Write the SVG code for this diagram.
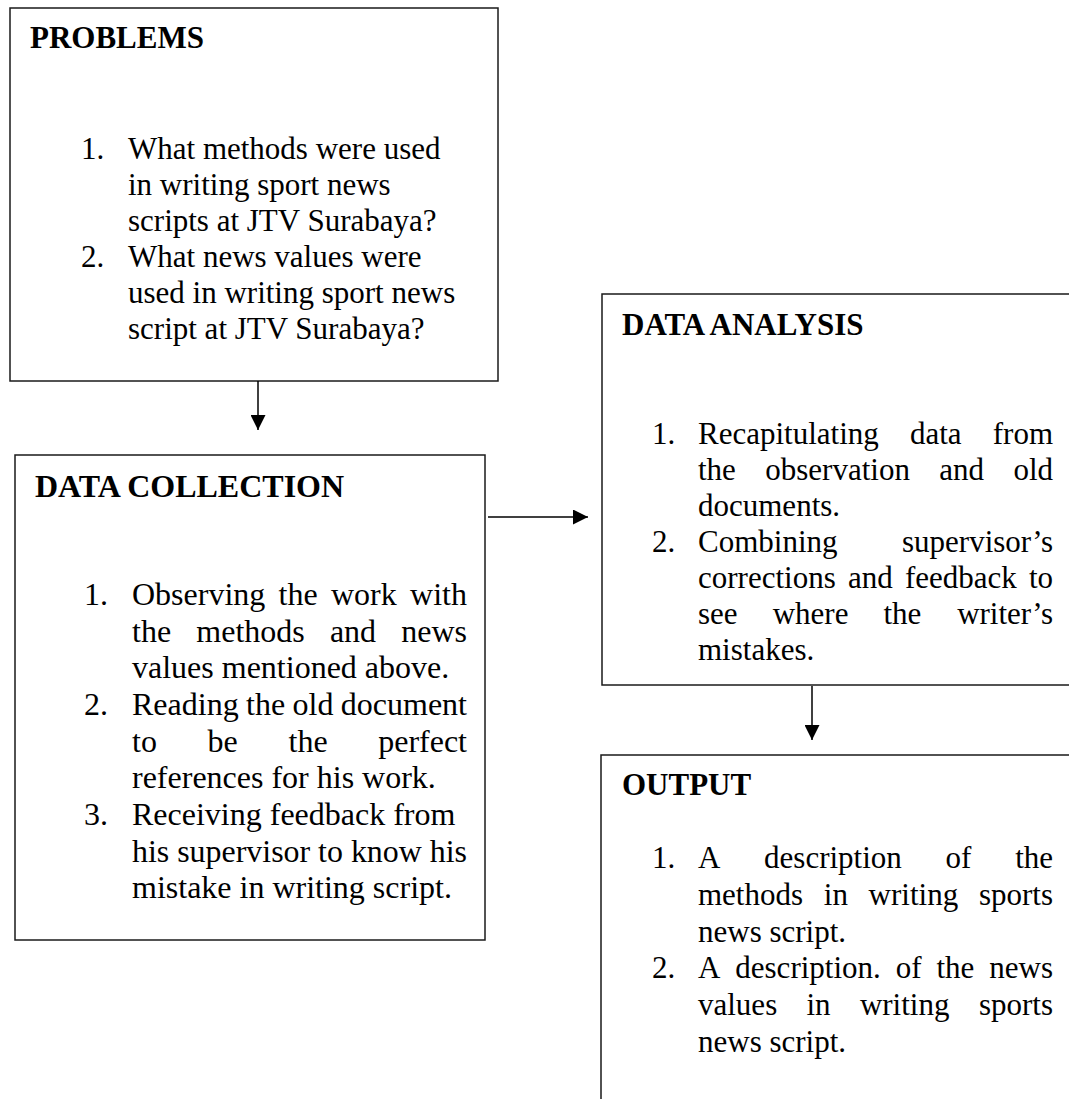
<svg xmlns="http://www.w3.org/2000/svg" width="1069" height="1099" viewBox="0 0 1069 1099">
<style>
.box{fill:#fff;stroke:#1a1a1a;stroke-width:1.5}
.t{font-family:"Liberation Serif","Times New Roman",serif;font-size:31px;fill:#000}
.c{font-size:32px}
.h{font-weight:bold}
.e{text-anchor:end}
.con{stroke:#000;stroke-width:1.5;fill:none}
</style>
<defs>
<marker id="ah" markerUnits="userSpaceOnUse" markerWidth="15" markerHeight="15" refX="15" refY="7.5" orient="auto">
<path d="M0,0 L15,7.5 L0,15 z" fill="#000"/>
</marker>
</defs>
<rect width="1069" height="1099" fill="#fff"/>

<g id="problems">
<rect class="box" x="10" y="8" width="488" height="373"/>
<text class="t h" x="30" y="48">PROBLEMS</text>
<text class="t" x="81" y="158.5">1.</text>
<text class="t" x="128" y="158.5">What methods were used</text>
<text class="t" x="128" y="194.5">in writing sport news</text>
<text class="t" x="128" y="230.5">scripts at JTV Surabaya?</text>
<text class="t" x="81" y="266.5">2.</text>
<text class="t" x="128" y="266.5">What news values were</text>
<text class="t" x="128" y="302.5">used in writing sport news</text>
<text class="t" x="128" y="338.5">script at JTV Surabaya?</text>
</g>

<g id="data-collection">
<rect class="box" x="15" y="455" width="470" height="485"/>
<text class="t c h" x="35" y="497">DATA COLLECTION</text>
<text class="t c" x="84" y="605">1.</text>
<text class="t c" y="605"><tspan x="132">Observing</tspan><tspan x="278.6">the</tspan><tspan x="331">work</tspan></text>
<text class="t c e" x="467" y="605">with</text>
<text class="t c" y="641.7"><tspan x="132">the</tspan><tspan x="196.3">methods</tspan><tspan x="329.9">and</tspan></text>
<text class="t c e" x="467" y="641.7">news</text>
<text class="t c" x="132" y="678.3">values mentioned above.</text>
<text class="t c" x="84" y="715">2.</text>
<text class="t c" y="715"><tspan x="132">Reading</tspan><tspan x="246.1">the</tspan><tspan x="292.6">old</tspan></text>
<text class="t c e" x="467" y="715">document</text>
<text class="t c" y="751.7"><tspan x="132">to</tspan><tspan x="207.6">be</tspan><tspan x="288.5">the</tspan></text>
<text class="t c e" x="467" y="751.7">perfect</text>
<text class="t c" x="132" y="788.3">references for his work.</text>
<text class="t c" x="84" y="825">3.</text>
<text class="t c" x="132" y="825">Receiving feedback from</text>
<text class="t c" x="132" y="861.7" textLength="335" lengthAdjust="spacingAndGlyphs">his supervisor to know his</text>
<text class="t c" x="132" y="898.3">mistake in writing script.</text>
</g>

<g id="data-analysis">
<rect class="box" x="602" y="294" width="480" height="391"/>
<text class="t h" x="622" y="335">DATA ANALYSIS</text>
<text class="t" x="652" y="444">1.</text>
<text class="t" y="444"><tspan x="698">Recapitulating</tspan><tspan x="910">data</tspan></text>
<text class="t e" x="1053" y="444">from</text>
<text class="t" y="480"><tspan x="698">the</tspan><tspan x="765.3">observation</tspan><tspan x="939.3">and</tspan></text>
<text class="t e" x="1053" y="480">old</text>
<text class="t" x="698" y="516">documents.</text>
<text class="t" x="652" y="552">2.</text>
<text class="t" x="698" y="552">Combining</text>
<text class="t e" x="1053" y="552">supervisor’s</text>
<text class="t" y="588"><tspan x="698">corrections</tspan><tspan x="847.9">and</tspan><tspan x="904.9">feedback</tspan></text>
<text class="t e" x="1053" y="588">to</text>
<text class="t" y="624"><tspan x="698">see</tspan><tspan x="772.7">where</tspan><tspan x="883.5">the</tspan></text>
<text class="t e" x="1053" y="624">writer’s</text>
<text class="t" x="698" y="660">mistakes.</text>
</g>

<g id="output">
<rect class="box" x="601" y="755" width="480" height="360"/>
<text class="t h" x="622" y="795">OUTPUT</text>
<text class="t" x="652" y="868">1.</text>
<text class="t" y="868"><tspan x="698">A</tspan><tspan x="764.1">description</tspan><tspan x="945.6">of</tspan></text>
<text class="t e" x="1053" y="868">the</text>
<text class="t" y="905"><tspan x="698">methods</tspan><tspan x="823.8">in</tspan><tspan x="868.6">writing</tspan></text>
<text class="t e" x="1053" y="905">sports</text>
<text class="t" x="698" y="942">news script.</text>
<text class="t" x="652" y="978">2.</text>
<text class="t" y="978"><tspan x="698">A</tspan><tspan x="735.3">description.</tspan><tspan x="895.7">of</tspan><tspan x="936.4">the</tspan></text>
<text class="t e" x="1053" y="978">news</text>
<text class="t" y="1015"><tspan x="698">values</tspan><tspan x="806.5">in</tspan><tspan x="859.9">writing</tspan></text>
<text class="t e" x="1053" y="1015">sports</text>
<text class="t" x="698" y="1052">news script.</text>
</g>

<g id="connectors">
<line class="con" x1="258" y1="381" x2="258" y2="430" marker-end="url(#ah)"/>
<line class="con" x1="488" y1="517" x2="588" y2="517" marker-end="url(#ah)"/>
<line class="con" x1="812" y1="686" x2="812" y2="740" marker-end="url(#ah)"/>
</g>
</svg>
